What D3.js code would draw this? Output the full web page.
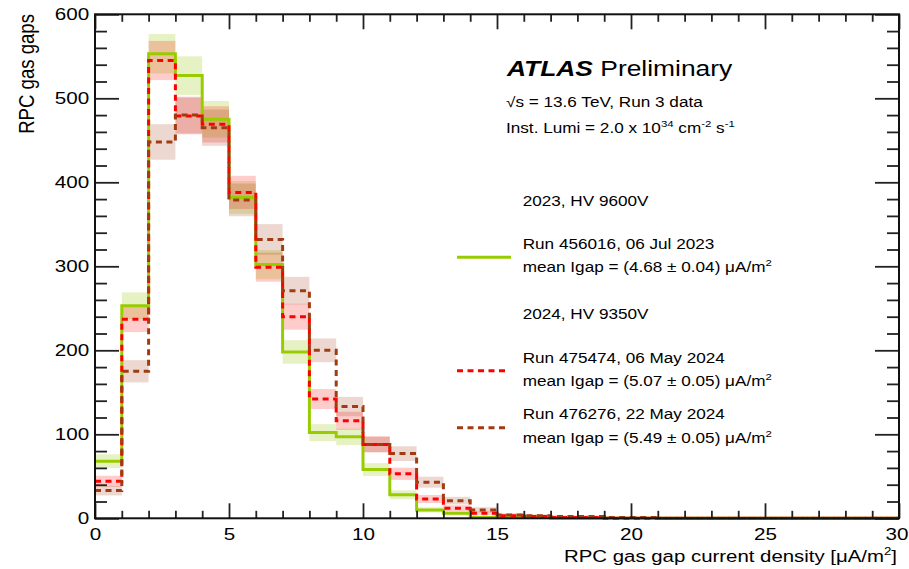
<!DOCTYPE html>
<html>
<head>
<meta charset="utf-8">
<script src="https://cdn.jsdelivr.net/npm/d3@7"></script>
<style>
  html, body { margin: 0; padding: 0; background: #fff; }
  svg { display: block; }
  text { font-family: "Liberation Sans", Arial, Helvetica, sans-serif; fill: #000; }
</style>
</head>
<body>
<svg id="chart" width="909" height="569"></svg>
<script>
// Bin edges of the current-density histogram [uA/m^2]
const binEdges = [0,1,2,3,4,5,6,7,8,9,10,11,12,13,14,15,16,17,18,19,20,21,22,23,24,25,26,27,28,29,30];

// Number of RPC gas gaps per 1 uA/m^2 bin
const run456016 = [68,253,553,527,475,382,302,198,102,97,58,28,10,6,1,1,1,0,0,0,0,0,0,0,0,0,0,0,0,0];
const run475474 = [44,237,545,479,469,388,299,240,142,116,88,53,23,12,6,3,2,1,1,0,0,0,0,0,0,0,0,0,0,0];
const run476276 = [33,175,448,480,465,379,332,271,200,133,88,77,43,21,10,4,3,2,2,1,1,0,0,0,0,0,0,0,0,0];

const xTicks = [0,5,10,15,20,25,30];
const yTicks = [0,100,200,300,400,500,600];

const series = [
  { name: "Run 456016, 06 Jul 2023", mean: "mean Igap = (4.68 \u00b1 0.04) ", values: run456016, color: "#99cc00", band: "rgba(150,200,0,0.23)", dash: null },
  { name: "Run 475474, 06 May 2024", mean: "mean Igap = (5.07 \u00b1 0.05) ", values: run475474, color: "#ff0000", band: "rgba(255,0,0,0.2)", dash: "6,4.5" },
  { name: "Run 476276, 22 May 2024", mean: "mean Igap = (5.49 \u00b1 0.05) ", values: run476276, color: "#a03c12", band: "rgba(160,60,18,0.2)", dash: "6,4.5" }
];

const frameL = 95, frameR = 899, frameT = 14.3, frameB = 518.3;
const SX = 1.2; // glyph width stretch of the canvas

const svg = d3.select("#chart");
const x = d3.scaleLinear().domain([0, 30]).range([frameL, frameR]);
const y = d3.scaleLinear().domain([0, 600]).range([frameB, frameT]);

// Error bands (statistical, sqrt(N)) drawn first
series.forEach(s => {
  svg.append("g").selectAll("rect")
    .data(s.values.map((v, i) => ({ v, i })).filter(d => d.v > 0))
    .join("rect")
    .attr("x", d => x(binEdges[d.i]))
    .attr("width", d => x(binEdges[d.i + 1]) - x(binEdges[d.i]))
    .attr("y", d => y(d.v + Math.sqrt(d.v)))
    .attr("height", d => y(d.v - Math.sqrt(d.v)) - y(d.v + Math.sqrt(d.v)))
    .attr("fill", s.band);
});

// Step outlines
series.forEach(s => {
  const path = d3.path();
  path.moveTo(x(binEdges[0]), y(s.values[0]));
  s.values.forEach((v, i) => {
    if (i > 0) path.lineTo(x(binEdges[i]), y(v));
    path.lineTo(x(binEdges[i + 1]), y(v));
  });
  svg.append("path")
    .attr("d", path.toString())
    .attr("fill", "none")
    .attr("stroke", s.color)
    .attr("stroke-width", 3)
    .attr("stroke-dasharray", s.dash);
});

// Axes: ticks point into the frame on all four sides
const tickColor = "#222";
function styleAxis(g) {
  g.select(".domain").remove();
  g.selectAll(".tick line").attr("stroke", tickColor).attr("stroke-width", 1.8);
}
const xMinor = d3.range(0, 31, 1).filter(v => v % 5 !== 0);
const yMinor = d3.range(0, 601, 20).filter(v => v % 100 !== 0);

svg.append("g").attr("transform", `translate(0,${frameB})`)
  .call(d3.axisBottom(x).tickValues(xMinor).tickSizeInner(-7.5).tickSizeOuter(0).tickFormat(""))
  .call(styleAxis);
svg.append("g").attr("transform", `translate(0,${frameT})`)
  .call(d3.axisTop(x).tickValues(xMinor).tickSizeInner(-7.5).tickSizeOuter(0).tickFormat(""))
  .call(styleAxis);
svg.append("g").attr("transform", `translate(0,${frameT})`)
  .call(d3.axisTop(x).tickValues(xTicks).tickSizeInner(-15).tickSizeOuter(0).tickFormat(""))
  .call(styleAxis);
svg.append("g").attr("transform", `translate(${frameL},0)`)
  .call(d3.axisLeft(y).tickValues(yMinor).tickSizeInner(-12).tickSizeOuter(0).tickFormat(""))
  .call(styleAxis);
svg.append("g").attr("transform", `translate(${frameR},0)`)
  .call(d3.axisRight(y).tickValues(yMinor).tickSizeInner(-12).tickSizeOuter(0).tickFormat(""))
  .call(styleAxis);
svg.append("g").attr("transform", `translate(${frameR},0)`)
  .call(d3.axisRight(y).tickValues(yTicks).tickSizeInner(-24).tickSizeOuter(0).tickFormat(""))
  .call(styleAxis);

const xAxis = svg.append("g").attr("transform", `translate(0,${frameB})`)
  .call(d3.axisBottom(x).tickValues(xTicks).tickSizeInner(-15).tickSizeOuter(0).tickPadding(9.5).tickFormat(d3.format("d")))
  .call(styleAxis);
xAxis.selectAll(".tick text")
  .attr("font-size", 17.2).attr("font-family", null)
  .attr("transform", d => `translate(${d === 30 ? -2.5 : 0},0) scale(${SX},1)`);

const yAxis = svg.append("g").attr("transform", `translate(${frameL},0)`)
  .call(d3.axisLeft(y).tickValues(yTicks).tickSizeInner(-24).tickSizeOuter(0).tickPadding(4.8).tickFormat(d3.format("d")))
  .call(styleAxis);
yAxis.selectAll(".tick text")
  .attr("font-size", 17.2).attr("font-family", null)
  .attr("transform", `scale(${SX},1)`);

// Frame
svg.append("rect")
  .attr("x", frameL).attr("y", frameT)
  .attr("width", frameR - frameL).attr("height", frameB - frameT)
  .attr("fill", "none").attr("stroke", "#111").attr("stroke-width", 2);

// Text helper: stretched glyphs anchored at (tx, ty)
function label(tx, ty, size, anchor) {
  return svg.append("text")
    .attr("transform", `translate(${tx},${ty}) scale(${SX},1)`)
    .attr("font-size", size)
    .attr("text-anchor", anchor || "start");
}

// Axis titles
const xt = label(897, 561.5, 17, "end");
xt.append("tspan").text("RPC gas gap current density [\u03bcA/m");
xt.append("tspan").attr("dy", -7).attr("font-size", 11).text("2");
xt.append("tspan").attr("dy", 7).text("]");

svg.append("text")
  .attr("transform", `translate(34,14) scale(${SX},1) rotate(-90)`)
  .attr("font-size", 18.6)
  .attr("text-anchor", "end")
  .text("RPC gas gaps");

// Experiment header
const atl = label(507, 75.7, 22);
atl.append("tspan").attr("font-weight", "bold").attr("font-style", "italic").text("ATLAS");
atl.append("tspan").text(" Preliminary");

label(506, 106.5, 14.3).text("\u221as = 13.6 TeV, Run 3 data");
const lumi = label(506, 133.3, 14.3);
lumi.append("tspan").text("Inst. Lumi = 2.0 x 10");
lumi.append("tspan").attr("dy", -6).attr("font-size", 9.5).text("34");
lumi.append("tspan").attr("dy", 6).text(" cm");
lumi.append("tspan").attr("dy", -6).attr("font-size", 9.5).text("-2");
lumi.append("tspan").attr("dy", 6).text(" s");
lumi.append("tspan").attr("dy", -6).attr("font-size", 9.5).text("-1");

// Legend
const legX = 522.7;
label(legX, 206, 14.3).text("2023, HV 9600V");
label(legX, 319, 14.3).text("2024, HV 9350V");

const legRows = [
  { nameY: 248.5, lineY: 257.3, meanY: 271.5 },
  { nameY: 362.5, lineY: 370.7, meanY: 386 },
  { nameY: 419.3, lineY: 427.7, meanY: 442.7 }
];
series.forEach((s, i) => {
  const r = legRows[i];
  label(legX, r.nameY, 14.3).text(s.name);
  const m = label(legX, r.meanY, 14.3);
  m.append("tspan").text(s.mean + "\u03bcA/m");
  m.append("tspan").attr("dy", -6).attr("font-size", 9.5).text("2");
  svg.append("line")
    .attr("x1", 457).attr("x2", s.dash ? 505 : 511)
    .attr("y1", r.lineY).attr("y2", r.lineY)
    .attr("stroke", s.color).attr("stroke-width", 3)
    .attr("stroke-dasharray", s.dash);
});
</script>
</body>
</html>
